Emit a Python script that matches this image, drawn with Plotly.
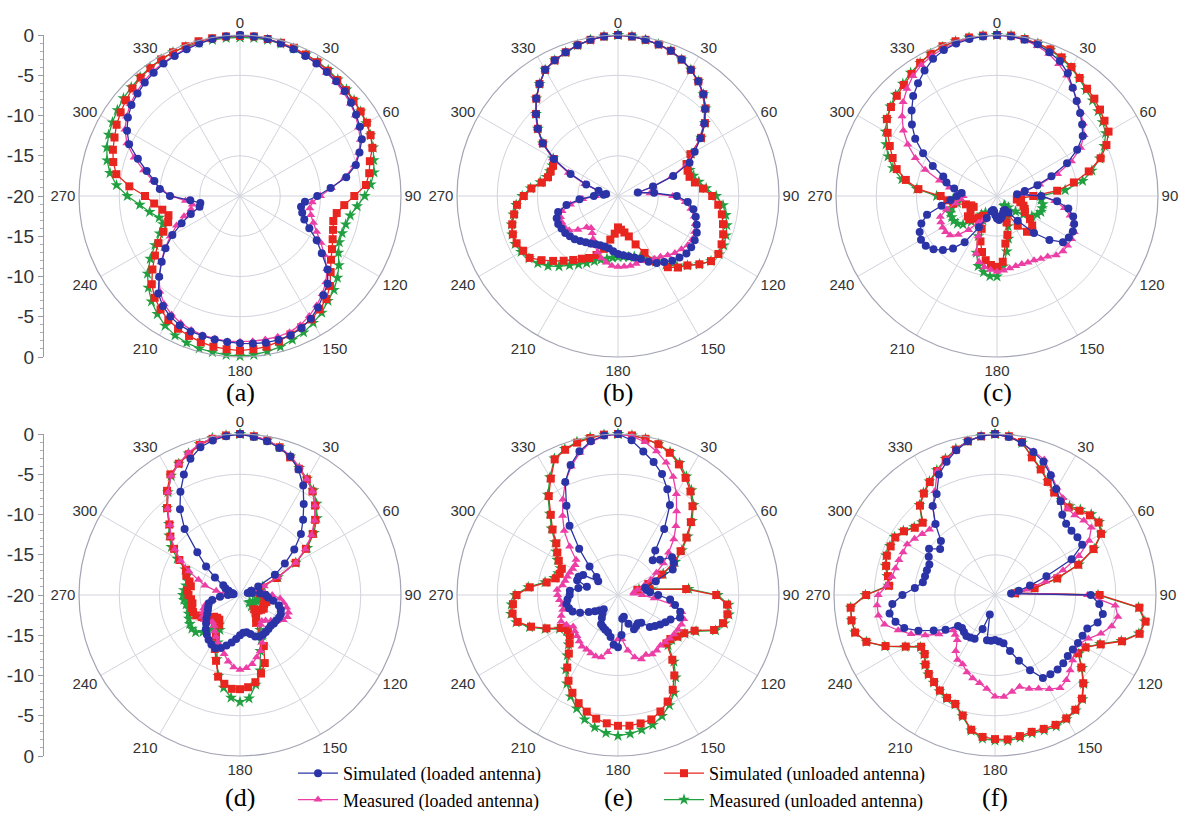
import plotly.graph_objects as go

# ---------------- data ----------------
theta = list(range(0, 360, 5))
angle_ticks = [0, 30, 60, 90, 120, 150, 180, 210, 240, 270, 300, 330]
angle_labels = [str(a) for a in angle_ticks]
db_tick_vals = [-20, -15, -10, -5, 0, 5, 10, 15, 20]
db_tick_text = ["0", "-5", "-10", "-15", "-20", "-15", "-10", "-5", "0"]
panel_labels = ["(a)", "(b)", "(c)", "(d)", "(e)", "(f)"]
series_names = ["Simulated (loaded antenna)", "Measured (loaded antenna)",
                "Simulated (unloaded antenna)", "Measured (unloaded antenna)"]

a_sim_loaded = [0, -0.1, -0.2, -0.4, -0.6, -0.8, -1.0, -1.2, -1.4, -1.6, -2.0, -2.4,
                -2.8, -3.3, -4.2, -5.1, -6.6, -8.7, -10.4, -11.9, -12.3, -12.0, -11.5, -10.5,
                -9.0, -7.6, -5.8, -4.6, -3.9, -3.1, -2.4, -1.9, -1.6, -1.5, -1.5, -1.6,
                -1.7, -1.8, -1.9, -2.0, -2.1, -2.3, -2.7, -3.3, -4.2, -5.8, -7.3, -8.7,
                -10.3, -12.0, -13.5, -14.8, -15.0, -13.8, -11.3, -10.0, -9.2, -8.0, -6.5, -4.8,
                -3.8, -3.0, -2.4, -2.0, -1.6, -1.3, -1.0, -0.8, -0.6, -0.4, -0.2, -0.1]
a_meas_loaded = [0, -0.1, -0.2, -0.4, -0.6, -0.8, -1.0, -1.3, -1.5, -1.8, -2.1, -2.5,
                 -3.0, -3.5, -4.3, -5.3, -6.8, -8.6, -10.0, -11.0, -11.2, -10.9, -10.3, -9.5,
                 -8.4, -7.2, -5.9, -4.9, -4.1, -3.4, -2.8, -2.3, -2.0, -1.9, -1.9, -1.9,
                 -1.9, -1.9, -2.0, -2.1, -2.3, -2.6, -3.0, -3.6, -4.5, -5.8, -7.2, -8.6,
                 -10.0, -11.3, -12.6, -13.7, -14.0, -13.2, -11.5, -10.1, -9.0, -7.6, -6.0, -4.5,
                 -3.5, -2.8, -2.2, -1.8, -1.4, -1.1, -0.9, -0.7, -0.5, -0.3, -0.2, -0.1]
a_sim_unloaded = [-0.1, -0.1, -0.2, -0.3, -0.4, -0.6, -0.8, -1.0, -1.2, -1.4, -1.6, -1.7,
                  -1.8, -2.1, -2.5, -3.3, -3.7, -4.3, -5.8, -7.0, -7.8, -8.0, -7.7, -7.3,
                  -6.8, -6.2, -5.3, -4.2, -3.3, -2.8, -2.3, -2.0, -1.7, -1.3, -1.0, -0.9,
                  -0.8, -0.9, -1.0, -1.2, -1.5, -1.8, -2.2, -2.8, -3.5, -4.5, -5.8, -7.1,
                  -8.3, -9.5, -10.5, -10.8, -10.2, -9.3, -8.2, -6.2, -4.4, -3.7, -3.2, -2.8,
                  -2.3, -1.9, -1.5, -1.1, -0.8, -0.6, -0.4, -0.3, -0.2, -0.1, -0.1, -0.1]
a_meas_unloaded = [-0.3, -0.3, -0.3, -0.4, -0.5, -0.6, -0.7, -0.9, -1.1, -1.3, -1.5, -1.7,
                   -1.9, -2.1, -2.4, -2.8, -3.1, -3.7, -4.5, -5.4, -6.1, -6.4, -6.5, -6.4,
                   -5.9, -5.0, -4.2, -3.5, -3.0, -2.3, -1.8, -1.3, -1.0, -0.6, -0.4, -0.2,
                   -0.1, -0.2, -0.3, -0.4, -0.6, -0.9, -1.4, -2.1, -2.9, -3.9, -5.0, -6.4,
                   -7.8, -9.0, -9.8, -9.6, -8.6, -7.5, -6.0, -4.6, -3.6, -2.9, -2.4, -2.0,
                   -1.7, -1.4, -1.1, -0.9, -0.7, -0.5, -0.4, -0.3, -0.3, -0.3, -0.3, -0.3]

b_sim_loaded = [0, -0.1, -0.3, -0.5, -0.8, -1.3, -1.9, -2.6, -3.5, -4.7, -6.0, -7.5,
                -9.0, -10.2, -12.7, -15.5, -17.5, -15.5, -12.7, -11.3, -10.5, -10.0, -9.6, -9.2,
                -9.0, -8.9, -8.9, -9.2, -9.5, -10.0, -10.4, -11.0, -11.7, -12.1, -12.4, -12.6,
                -12.8, -13.1, -13.4, -13.5, -13.5, -13.4, -13.2, -13.0, -12.7, -12.4, -12.2, -12.0,
                -11.9, -11.8, -11.9, -12.3, -13.5, -15.2, -17.0, -18.2, -18.5, -17.5, -15.8, -13.5,
                -10.8, -8.6, -7.0, -5.6, -4.2, -3.0, -1.9, -1.4, -1.0, -0.6, -0.3, -0.1]
b_meas_loaded = [0, -0.1, -0.3, -0.5, -0.9, -1.3, -1.9, -2.6, -3.6, -4.8, -6.1, -7.6,
                 -9.1, -10.5, -12.9, -15.5, -17.5, -16.0, -13.2, -11.6, -10.8, -10.2, -9.8, -9.5,
                 -9.3, -9.4, -9.7, -10.0, -10.4, -10.8, -11.0, -11.2, -11.4, -11.3, -11.2, -11.2,
                 -11.2, -11.3, -11.6, -12.0, -12.6, -13.2, -13.8, -14.4, -14.8, -14.5, -13.5, -12.6,
                 -12.3, -12.3, -12.4, -12.8, -14.0, -15.6, -17.2, -18.3, -18.5, -17.5, -15.6, -13.2,
                 -10.6, -8.5, -6.9, -5.5, -4.2, -3.0, -1.9, -1.4, -1.0, -0.6, -0.3, -0.1]
b_sim_unloaded = [0, -0.1, -0.3, -0.5, -0.8, -1.3, -1.9, -2.6, -3.5, -4.6, -5.9, -7.4,
                  -9.6, -10.6, -10.8, -10.8, -10.3, -9.4, -8.3, -7.5, -6.9, -6.5, -6.1, -5.8,
                  -5.6, -5.9, -6.8, -7.8, -8.4, -9.2, -10.6, -12.2, -13.6, -14.8, -15.4, -15.8,
                  -16.1, -15.3, -14.5, -13.2, -12.2, -11.5, -11.0, -10.3, -9.5, -8.6, -7.6, -6.6,
                  -6.4, -6.1, -6.1, -6.4, -6.9, -7.4, -8.3, -9.2, -10.4, -11.0, -11.1, -11.1,
                  -10.8, -8.6, -7.0, -5.6, -4.2, -3.0, -1.9, -1.4, -1.0, -0.6, -0.3, -0.1]
b_meas_unloaded = [0, -0.1, -0.3, -0.5, -0.8, -1.3, -1.9, -2.6, -3.5, -4.6, -5.9, -7.4,
                   -9.5, -10.4, -10.5, -10.3, -9.8, -9.0, -7.8, -6.9, -6.4, -6.0, -5.7, -5.5,
                   -5.5, -5.9, -6.8, -7.8, -8.6, -9.6, -10.6, -11.4, -11.9, -12.2, -12.3, -12.4,
                   -12.4, -12.3, -12.1, -11.8, -11.4, -10.8, -10.2, -9.5, -8.6, -7.7, -7.0, -6.5,
                   -6.1, -5.9, -6.0, -6.3, -6.8, -7.3, -8.1, -9.1, -10.2, -10.8, -11.0, -11.0,
                   -10.7, -8.6, -7.0, -5.6, -4.2, -3.0, -1.9, -1.4, -1.0, -0.6, -0.3, -0.1]

c_sim_loaded = [0, -0.1, -0.3, -0.5, -1.0, -1.5, -2.4, -3.6, -4.6, -5.4, -6.2, -7.0,
                -8.5, -10.4, -12.8, -14.8, -16.5, -17.5, -14.5, -12.5, -11.0, -10.2, -9.8, -9.6,
                -9.7, -10.0, -11.5, -13.5, -16.0, -17.5, -18.0, -18.0, -17.8, -17.5, -17.2, -17.0,
                -17.2, -17.6, -18.0, -18.2, -18.0, -17.0, -15.5, -13.0, -11.5, -10.5, -9.7, -9.2,
                -9.1, -9.4, -10.0, -11.0, -13.0, -14.2, -15.0, -15.6, -14.6, -13.5, -12.9, -11.2,
                -9.4, -7.6, -6.2, -5.0, -3.8, -2.9, -2.0, -1.2, -0.7, -0.4, -0.2, -0.1]
c_meas_loaded = [0, -0.1, -0.3, -0.7, -1.2, -1.9, -2.7, -3.6, -4.5, -5.3, -6.0, -6.8,
                 -8.0, -9.8, -12.0, -14.5, -16.5, -17.0, -14.5, -12.8, -11.5, -10.6, -9.9, -9.4,
                 -9.3, -9.3, -9.3, -9.6, -10.2, -10.5, -10.8, -10.9, -11.0, -11.0, -10.9, -10.7,
                 -10.6, -10.8, -11.0, -11.5, -12.4, -14.5, -16.5, -16.0, -14.5, -13.2, -12.4, -12.2,
                 -12.2, -12.3, -12.5, -13.5, -14.8, -15.5, -15.8, -15.4, -14.0, -12.6, -10.5, -8.8,
                 -7.2, -5.8, -4.6, -3.5, -2.6, -1.8, -1.2, -0.8, -0.5, -0.3, -0.1, 0]
c_sim_unloaded = [0, 0, -0.2, -0.4, -0.6, -1.0, -1.5, -2.1, -2.6, -2.9, -3.3, -3.7,
                  -4.0, -5.0, -6.3, -8.2, -10.3, -12.5, -15.5, -17.0, -17.5, -17.0, -16.5, -16.2,
                  -16.0, -15.0, -14.3, -13.8, -14.2, -15.5, -17.5, -17.8, -16.5, -15.0, -14.0, -11.8,
                  -11.2, -11.4, -11.9, -12.8, -14.0, -15.5, -17.0, -17.0, -16.5, -16.0, -15.5, -15.6,
                  -16.2, -16.8, -16.6, -16.0, -14.5, -13.8, -13.0, -10.2, -8.5, -7.1, -6.2, -5.3,
                  -4.3, -3.3, -2.8, -2.4, -2.0, -1.5, -0.9, -0.5, -0.2, -0.1, 0, 0]
c_meas_unloaded = [0, 0, -0.2, -0.4, -0.7, -1.1, -1.6, -2.2, -2.8, -3.2, -3.6, -4.0,
                   -4.4, -5.3, -6.4, -7.8, -9.2, -11.5, -14.6, -14.5, -14.2, -14.2, -14.2, -14.5,
                   -15.0, -16.0, -17.0, -18.0, -18.5, -18.5, -18.0, -17.0, -16.0, -14.5, -13.0, -11.2,
                   -10.0, -10.0, -10.4, -11.0, -12.5, -14.5, -16.5, -17.5, -17.0, -15.5, -14.5, -14.0,
                   -13.8, -13.8, -13.8, -14.2, -15.0, -14.5, -12.5, -10.0, -8.0, -6.6, -5.6, -4.8,
                   -4.0, -3.3, -2.7, -2.2, -1.8, -1.3, -0.9, -0.5, -0.3, -0.1, 0, 0]

d_sim_loaded = [0, -0.3, -0.6, -1.1, -1.7, -2.8, -4.3, -6.2, -7.8, -9.3, -11.2, -13.2,
                -15.0, -17.5, -18.5, -19.0, -18.5, -17.5, -16.8, -16.5, -15.8, -15.0, -14.6, -14.4,
                -14.4, -14.5, -14.5, -14.6, -14.5, -14.4, -14.3, -14.3, -14.5, -15.0, -15.3, -15.3,
                -15.0, -14.5, -14.0, -13.5, -13.0, -12.7, -12.9, -13.2, -13.6, -14.0, -14.5, -14.9,
                -15.3, -15.6, -15.8, -16.0, -16.5, -17.5, -18.5, -19.0, -19.2, -19.0, -18.5, -18.0,
                -17.6, -16.2, -14.5, -12.5, -9.3, -7.0, -5.2, -3.5, -2.0, -1.0, -0.5, -0.2]
d_meas_loaded = [0, -0.2, -0.5, -1.0, -1.6, -2.5, -3.4, -4.3, -5.5, -6.9, -8.4, -10.1,
                 -12.0, -14.8, -16.8, -18.0, -18.0, -17.0, -16.0, -15.0, -14.5, -14.0, -13.6, -13.5,
                 -13.8, -14.4, -15.0, -15.5, -15.8, -15.5, -14.5, -13.5, -12.6, -12.0, -11.3, -10.9,
                 -10.7, -11.0, -11.6, -12.4, -13.0, -13.5, -14.0, -14.5, -15.0, -15.2, -15.0, -14.6,
                 -14.6, -14.9, -15.2, -15.6, -16.5, -17.5, -18.5, -18.0, -17.0, -15.5, -14.5, -13.0,
                 -11.5, -10.1, -8.8, -7.7, -6.0, -4.4, -2.9, -2.0, -1.2, -0.6, -0.2, -0.1]
d_sim_unloaded = [0, -0.2, -0.5, -1.0, -1.8, -2.7, -3.4, -4.3, -5.5, -6.8, -8.2, -10.0,
                  -12.0, -15.0, -17.5, -18.5, -18.0, -17.5, -17.0, -16.8, -16.5, -16.6, -16.8, -16.8,
                  -16.6, -16.8, -17.0, -17.5, -17.0, -16.5, -16.0, -13.0, -11.0, -9.9, -9.0, -8.5,
                  -8.3, -8.3, -8.8, -9.5, -11.3, -12.6, -14.0, -15.5, -16.0, -16.0, -15.8, -15.2,
                  -14.5, -14.0, -13.8, -13.8, -14.0, -13.9, -13.6, -13.4, -13.8, -13.5, -12.9, -12.6,
                  -11.3, -10.0, -8.7, -7.6, -5.9, -4.2, -2.7, -2.0, -1.4, -0.7, -0.3, -0.1]
d_meas_unloaded = [0, -0.2, -0.5, -1.0, -1.7, -2.6, -3.3, -4.1, -5.2, -6.5, -8.0, -9.8,
                   -12.0, -14.8, -17.0, -18.5, -18.5, -18.0, -17.5, -17.5, -17.5, -17.5, -17.8, -18.0,
                   -18.2, -18.5, -18.5, -18.0, -17.0, -16.0, -15.0, -13.8, -12.6, -10.3, -8.7, -7.1,
                   -6.7, -7.2, -8.3, -9.6, -11.5, -13.5, -15.0, -15.5, -14.5, -13.5, -12.8, -12.7,
                   -12.8, -13.0, -13.2, -13.4, -13.2, -13.0, -12.9, -13.0, -13.2, -13.3, -13.0, -12.5,
                   -11.0, -9.6, -8.5, -7.5, -5.9, -4.4, -2.9, -2.0, -1.3, -0.6, -0.2, -0.1]

e_sim_loaded = [0, -0.7, -1.9, -2.9, -4.0, -5.5, -7.1, -10.0, -12.8, -13.9, -13.2, -11.8,
                -12.0, -12.5, -15.0, -16.5, -16.4, -16.0, -15.0, -13.5, -12.8, -12.0, -11.8, -12.8,
                -13.2, -13.6, -14.0, -14.4, -15.5, -15.7, -15.5, -15.3, -16.2, -17.2, -17.0, -15.0,
                -13.5, -13.8, -14.7, -15.2, -15.4, -15.6, -15.8, -16.5, -17.0, -17.5, -17.0, -16.5,
                -15.8, -14.8, -14.0, -13.7, -13.5, -13.7, -14.0, -14.0, -15.0, -16.0, -14.6, -14.6,
                -15.0, -17.0, -16.5, -15.0, -12.5, -9.5, -7.2, -4.5, -2.8, -1.5, -0.6, -0.1]
e_meas_loaded = [0, -0.2, -0.7, -1.5, -2.5, -3.8, -5.5, -7.3, -8.8, -10.2, -11.8, -13.1,
                 -14.5, -15.5, -16.5, -17.5, -18.0, -18.0, -17.0, -15.5, -13.0, -11.8, -11.3, -11.3,
                 -11.4, -11.5, -11.6, -11.7, -11.8, -11.6, -11.5, -11.8, -11.5, -12.0, -13.0, -14.5,
                 -14.5, -14.0, -12.8, -12.0, -11.9, -12.0, -12.2, -12.2, -12.5, -12.8, -13.0, -13.2,
                 -12.6, -12.2, -12.5, -12.9, -13.0, -12.7, -12.5, -12.4, -13.0, -13.2, -13.3, -13.4,
                 -13.5, -13.5, -13.2, -11.5, -9.6, -8.0, -6.3, -4.5, -3.0, -1.7, -0.7, -0.2]
e_sim_unloaded = [0, -0.1, -0.3, -0.6, -1.2, -2.1, -3.2, -4.3, -5.6, -7.2, -8.9, -10.5,
                  -12.0, -14.0, -16.0, -17.5, -16.0, -11.5, -7.8, -6.4, -6.2, -6.5, -7.3, -9.5,
                  -10.5, -11.0, -11.5, -11.5, -9.5, -7.8, -6.4, -5.4, -4.6, -4.0, -3.8, -3.7,
                  -3.75, -4.0, -4.4, -5.0, -5.7, -6.6, -7.7, -9.0, -10.5, -11.5, -12.2, -12.4,
                  -11.8, -10.2, -8.5, -7.1, -6.7, -6.9, -7.4, -9.0, -11.0, -12.0, -12.3, -12.3,
                  -11.5, -10.8, -10.0, -8.5, -7.0, -5.0, -3.3, -1.4, -0.8, -0.4, -0.2, 0]
e_meas_unloaded = [0, -0.1, -0.3, -0.6, -1.1, -1.9, -3.0, -4.1, -5.4, -7.0, -8.7, -10.3,
                   -11.8, -13.8, -15.8, -17.3, -15.8, -11.2, -7.6, -6.2, -6.0, -6.3, -7.1, -9.3,
                   -10.4, -10.9, -11.3, -11.2, -9.2, -7.5, -6.0, -4.9, -4.0, -3.3, -3.0, -2.7,
                   -2.5, -2.8, -3.3, -4.0, -5.0, -6.1, -7.3, -8.7, -10.2, -11.3, -12.0, -12.2,
                   -11.6, -10.0, -8.3, -6.9, -6.5, -6.7, -7.2, -8.8, -10.8, -11.8, -12.1, -12.1,
                   -11.3, -10.6, -9.8, -8.3, -6.8, -4.8, -3.1, -1.3, -0.7, -0.3, -0.1, 0]

f_sim_loaded = [0, -0.3, -0.8, -1.6, -2.4, -3.6, -4.8, -5.8, -7.0, -7.5, -7.6, -7.5,
                -7.5, -9.5, -13.2, -15.5, -17.0, -18.0, -8.1, -7.0, -6.4, -6.8, -7.8, -8.0,
                -8.1, -8.2, -8.2, -8.0, -7.9, -8.0, -8.1, -9.7, -11.3, -12.8, -13.9, -14.2,
                -14.4, -14.3, -14.3, -17.5, -15.5, -14.0, -13.9, -13.8, -14.0, -14.2, -14.0, -12.5,
                -11.2, -9.5, -8.0, -7.2, -6.7, -7.2, -8.5, -10.0, -10.9, -11.0, -11.0, -11.0,
                -10.5, -10.0, -11.1, -10.5, -8.5, -6.5, -5.5, -3.5, -2.4, -1.4, -0.6, -0.2]
f_meas_loaded = [0, -0.3, -0.8, -1.5, -2.1, -3.5, -4.6, -5.3, -6.0, -6.0, -5.6, -5.4,
                 -6.5, -8.5, -11.0, -13.5, -16.0, -17.5, -8.5, -5.0, -4.5, -5.0, -6.0, -7.2,
                 -7.9, -7.9, -7.4, -6.8, -6.2, -5.9, -6.5, -7.2, -7.6, -8.2, -7.8, -7.3,
                 -7.4, -8.3, -8.9, -9.3, -9.8, -10.5, -10.7, -11.5, -12.7, -13.0, -13.2, -11.5,
                 -10.0, -8.5, -7.2, -5.8, -5.3, -5.3, -5.5, -6.5, -7.0, -7.2, -7.3, -7.4,
                 -7.4, -7.8, -8.2, -8.5, -8.4, -6.5, -5.1, -3.0, -2.2, -1.3, -0.6, -0.2]
f_sim_unloaded = [0, -0.2, -0.7, -2.3, -3.4, -4.5, -5.3, -5.7, -5.8, -5.2, -4.6, -4.3,
                  -4.8, -6.5, -9.0, -12.0, -15.0, -17.5, -7.0, -2.0, -1.0, -1.4, -3.2, -5.5,
                  -7.0, -7.4, -6.0, -4.5, -3.2, -2.6, -2.3, -2.2, -2.3, -2.4, -2.2, -2.0,
                  -2.1, -2.3, -3.0, -4.5, -5.6, -5.9, -6.3, -6.8, -7.2, -7.8, -8.6, -8.8,
                  -7.2, -5.0, -3.0, -2.0, -1.9, -2.0, -4.0, -6.8, -6.5, -6.0, -5.7, -5.7,
                  -5.7, -6.2, -7.0, -7.3, -5.5, -4.6, -3.8, -3.0, -2.1, -1.3, -0.6, -0.2]
f_meas_unloaded = [0, -0.2, -0.8, -2.2, -3.3, -4.4, -5.2, -5.6, -5.6, -5.0, -4.4, -4.2,
                   -4.7, -6.4, -8.9, -12.0, -15.0, -17.5, -7.2, -2.1, -1.1, -1.5, -3.3, -5.6,
                   -7.0, -7.3, -5.9, -4.4, -3.1, -2.5, -2.2, -2.0, -2.1, -2.2, -2.0, -1.8,
                   -1.9, -2.1, -2.9, -4.4, -5.5, -5.8, -6.2, -6.7, -7.1, -7.7, -8.5, -8.7,
                   -7.1, -4.9, -3.0, -2.0, -1.9, -2.0, -3.9, -6.7, -6.4, -5.9, -5.6, -5.6,
                   -5.6, -6.1, -6.9, -7.2, -5.4, -4.5, -3.7, -2.9, -2.0, -1.2, -0.6, -0.2]

panels = [
    [a_sim_loaded, a_meas_loaded, a_sim_unloaded, a_meas_unloaded],
    [b_sim_loaded, b_meas_loaded, b_sim_unloaded, b_meas_unloaded],
    [c_sim_loaded, c_meas_loaded, c_sim_unloaded, c_meas_unloaded],
    [d_sim_loaded, d_meas_loaded, d_sim_unloaded, d_meas_unloaded],
    [e_sim_loaded, e_meas_loaded, e_sim_unloaded, e_meas_unloaded],
    [f_sim_loaded, f_meas_loaded, f_sim_unloaded, f_meas_unloaded],
]

# ---------------- styling ----------------
W, H = 1182, 817
R = 161
centers = [(240, 196), (618, 196), (997, 196), (240, 595), (618, 595), (995, 595)]
label_y = [392, 392, 392, 797, 797, 797]

colors = ["#2b34a6", "#ec3fa5", "#e8261f", "#21a040"]
symbols = ["circle", "triangle-up", "square", "star"]
sizes = [8, 8, 8, 9]
legends = ["legend", "legend", "legend2", "legend2"]
draw_order = [3, 2, 1, 0]

grid_col = "#d2d3dc"
line_col = "#a3a5b4"
tick_font = dict(family="Liberation Sans, Arial, sans-serif", size=15, color="#333333")
serif = "Liberation Serif, Times New Roman, serif"

fig = go.Figure()

for p, series in enumerate(panels):
    pid = "polar" if p == 0 else f"polar{p+1}"
    for k in draw_order:
        r = list(series[k]) + [series[k][0]]
        th = theta + [theta[0]]
        fig.add_trace(go.Scatterpolar(
            r=r, theta=th, mode="lines+markers", subplot=pid,
            name=series_names[k], legend=legends[k],
            showlegend=(p == 0), legendrank=k + 1,
            line=dict(color=colors[k], width=1.3),
            marker=dict(symbol=symbols[k], size=sizes[k], color=colors[k], line=dict(width=0)),
        ))
    cx, cy = centers[p]
    fig.layout[pid] = dict(
        domain=dict(x=[(cx - R) / W, (cx + R) / W], y=[1 - (cy + R) / H, 1 - (cy - R) / H]),
        bgcolor="white",
        angularaxis=dict(rotation=90, direction="clockwise", tickmode="array",
                         tickvals=angle_ticks, ticktext=angle_labels, ticks="",
                         showline=True, linecolor=line_col, linewidth=1.2,
                         gridcolor=grid_col, gridwidth=1, tickfont=tick_font),
        radialaxis=dict(range=[-20, 0], tickmode="array", tickvals=[-15, -10, -5],
                        showticklabels=False, ticks="", showline=False,
                        gridcolor=grid_col, gridwidth=1),
    )
    fig.add_annotation(x=cx / W, y=1 - label_y[p] / H, xref="paper", yref="paper",
                       xanchor="center", yanchor="middle",
                       text=panel_labels[p], showarrow=False,
                       font=dict(family=serif, size=26, color="black"))

# left dB scales for the two rows (drawn as cartesian axes)
for i, (cy, ya, xa) in enumerate([(196, "yaxis", "xaxis"), (595, "yaxis2", "xaxis2")]):
    fig.add_trace(go.Scatter(x=[0], y=[0], mode="markers", marker=dict(opacity=0),
                             showlegend=False, hoverinfo="skip",
                             xaxis="x" if i == 0 else "x2", yaxis="y" if i == 0 else "y2"))
    fig.layout[xa] = dict(domain=[44 / W, 46 / W], visible=False, range=[-1, 1],
                          anchor="y" if i == 0 else "y2")
    fig.layout[ya] = dict(domain=[1 - (cy + R) / H, 1 - (cy - R) / H], range=[-20, 20],
                          tickmode="array", tickvals=db_tick_vals, ticktext=db_tick_text,
                          showline=True, linecolor="#9a9aa6", linewidth=1,
                          ticks="outside", ticklen=5, tickcolor="#9a9aa6",
                          minor=dict(dtick=1, ticks="outside", ticklen=3, tickcolor="#b0b0bb"),
                          showgrid=False, zeroline=False, automargin=False,
                          tickfont=dict(family="Liberation Sans, Arial, sans-serif", size=19, color="#333333"),
                          anchor="x" if i == 0 else "x2")

fig.update_layout(
    width=W, height=H, margin=dict(l=0, r=0, t=0, b=0, autoexpand=False),
    paper_bgcolor="white", plot_bgcolor="rgba(0,0,0,0)",
    legend=dict(x=293 / W, y=1 - 755 / H, xanchor="left", yanchor="top",
                bgcolor="rgba(0,0,0,0)", font=dict(family=serif, size=18, color="black"),
                tracegroupgap=0, itemwidth=40, traceorder="normal"),
    legend2=dict(x=659 / W, y=1 - 755 / H, xanchor="left", yanchor="top",
                 bgcolor="rgba(0,0,0,0)", font=dict(family=serif, size=18, color="black"),
                 tracegroupgap=0, itemwidth=40, traceorder="normal"),
    showlegend=True,
)

fig.write_html("out.html")
